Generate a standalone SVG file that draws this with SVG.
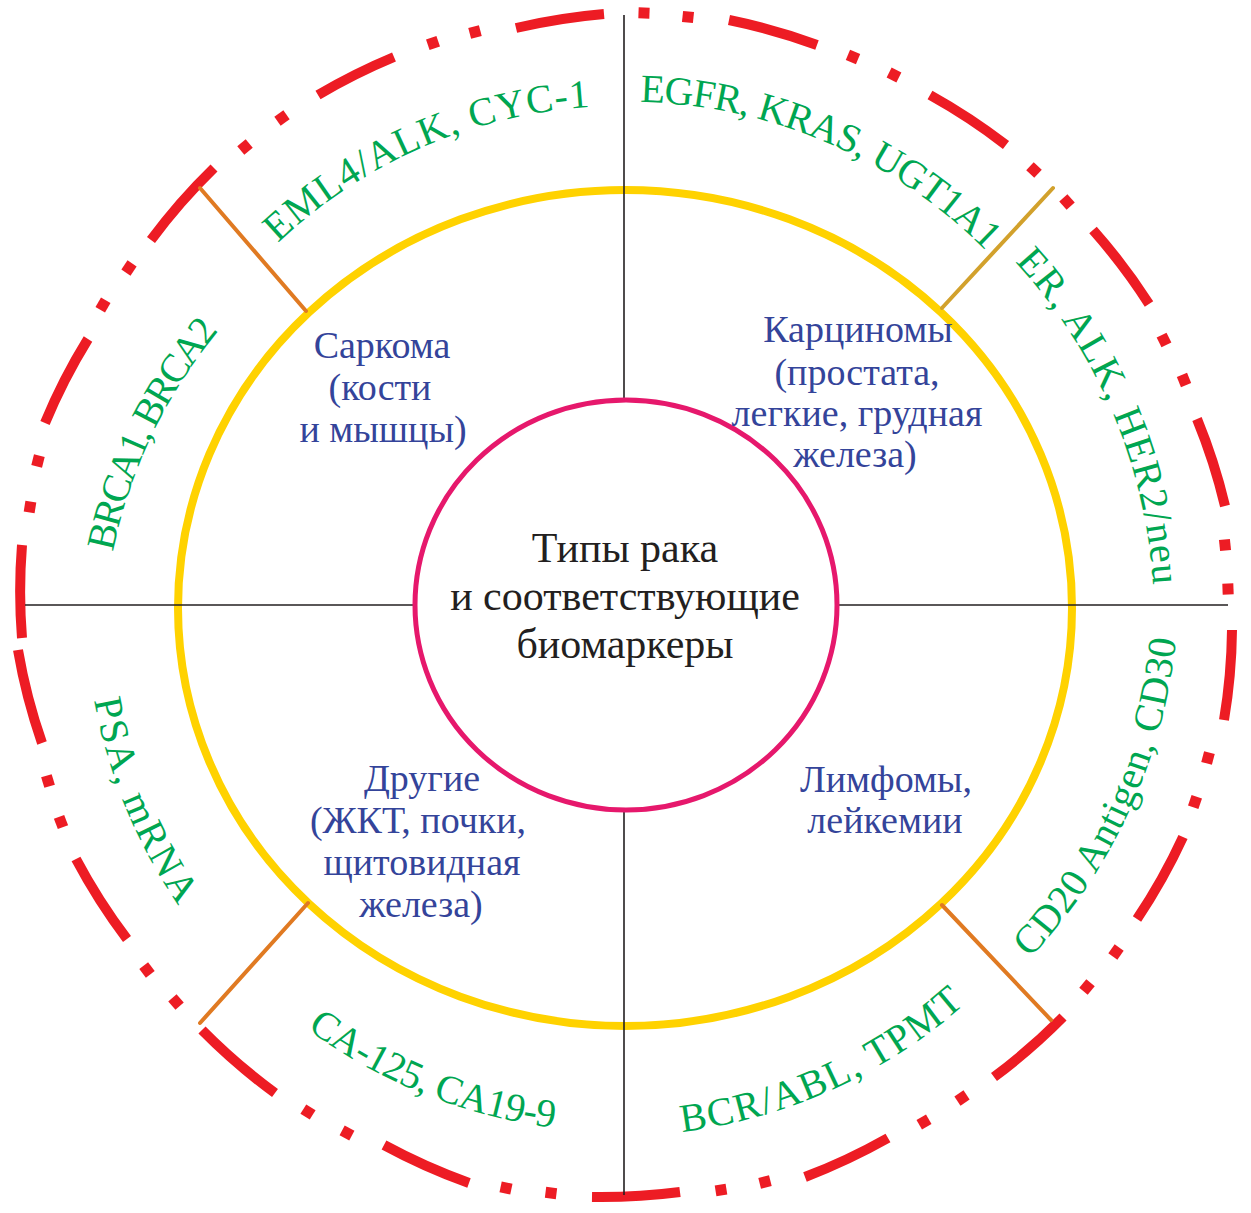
<svg xmlns="http://www.w3.org/2000/svg" width="1251" height="1213" viewBox="0 0 1251 1213">
<style>
.grn{font-family:"Liberation Serif","DejaVu Serif",serif;font-size:40px;fill:#00a651}
.blu{font-family:"Liberation Serif","DejaVu Serif",serif;font-size:38px;fill:#34449a;text-anchor:middle}
.ctr{font-family:"Liberation Serif","DejaVu Serif",serif;font-size:42px;fill:#231f20;text-anchor:middle}
.dash{stroke:#ed1c24;stroke-width:10;fill:none;stroke-linecap:butt}
.dot{fill:#ed1c24}
.conn{stroke:#e07a22;stroke-width:4;stroke-linecap:round;fill:none}
.axis{stroke:#231f20;stroke-width:1.6;fill:none}
</style>
<defs>
<path id="p1" d="M278 243 A500 500 0 0 1 590 107"/>
<path id="p2" d="M640 102 A503 503 0 0 1 987 252"/>
<path id="p3" d="M1015 262 A523 523 0 0 1 1153 586"/>
<path id="p4" d="M1030 958 A545 545 0 0 0 1176 640"/>
<path id="p5" d="M682 1132 A528 528 0 0 0 966 1003"/>
<path id="p6" d="M307 1029 A529 529 0 0 0 556 1128"/>
<path id="p7" d="M94 700 A538 538 0 0 0 178 905"/>
<path id="p8" d="M113 552 A500 500 0 0 1 221 328"/>
</defs>
<rect width="1251" height="1213" fill="#ffffff"/>
<g id="outer-ring">
<path class="dash" d="M516 28 A606 593 0 0 1 604 14"/>
<path class="dash" d="M729 20 A606 593 0 0 1 817 45"/>
<path class="dash" d="M930 95 A606 593 0 0 1 1006 145"/>
<path class="dash" d="M1093 230 A606 593 0 0 1 1149 304"/>
<path class="dash" d="M1197 419 A606 593 0 0 1 1225 506"/>
<path class="dash" d="M1232 630 A606 593 0 0 1 1224 720"/>
<path class="dash" d="M1183 837 A606 593 0 0 1 1137 919"/>
<path class="dash" d="M1063 1017 A606 593 0 0 1 994 1077"/>
<path class="dash" d="M888 1138 A606 593 0 0 1 805 1177"/>
<path class="dash" d="M680 1192 A606 593 0 0 1 592 1197"/>
<path class="dash" d="M469 1183 A606 593 0 0 1 384 1145"/>
<path class="dash" d="M275 1093 A606 593 0 0 1 202 1030"/>
<path class="dash" d="M127 939 A606 593 0 0 1 76 859"/>
<path class="dash" d="M42 743 A606 593 0 0 1 18 650"/>
<path class="dash" d="M22 638 A606 593 0 0 1 22 545"/>
<path class="dash" d="M45 423 A606 593 0 0 1 88 339"/>
<path class="dash" d="M151 240 A606 593 0 0 1 214 168"/>
<path class="dash" d="M318 95 A606 593 0 0 1 394 57"/>
<rect class="dot" x="427.5" y="37.5" width="11" height="11" transform="rotate(-109 433 43)"/>
<rect class="dot" x="469.5" y="26.5" width="11" height="11" transform="rotate(-105 475 32)"/>
<rect class="dot" x="638.5" y="7.5" width="11" height="11" transform="rotate(-88 644 13)"/>
<rect class="dot" x="682.5" y="11.5" width="11" height="11" transform="rotate(-84 688 17)"/>
<rect class="dot" x="847.5" y="51.5" width="11" height="11" transform="rotate(-67 853 57)"/>
<rect class="dot" x="888.5" y="69.5" width="11" height="11" transform="rotate(-63 894 75)"/>
<rect class="dot" x="1028.5" y="164.5" width="11" height="11" transform="rotate(-47 1034 170)"/>
<rect class="dot" x="1061.5" y="196.5" width="11" height="11" transform="rotate(-42 1067 202)"/>
<rect class="dot" x="1158.5" y="334.5" width="11" height="11" transform="rotate(-26 1164 340)"/>
<rect class="dot" x="1178.5" y="374.5" width="11" height="11" transform="rotate(-22 1184 380)"/>
<rect class="dot" x="1219.5" y="539.5" width="11" height="11" transform="rotate(-6 1225 545)"/>
<rect class="dot" x="1222.5" y="583.5" width="11" height="11" transform="rotate(-2 1228 589)"/>
<rect class="dot" x="1202.5" y="752.5" width="11" height="11" transform="rotate(15 1208 758)"/>
<rect class="dot" x="1189.5" y="796.5" width="11" height="11" transform="rotate(19 1195 802)"/>
<rect class="dot" x="1110.5" y="946.5" width="11" height="11" transform="rotate(35 1116 952)"/>
<rect class="dot" x="1081.5" y="981.5" width="11" height="11" transform="rotate(40 1087 987)"/>
<rect class="dot" x="956.5" y="1092.5" width="11" height="11" transform="rotate(56 962 1098)"/>
<rect class="dot" x="918.5" y="1116.5" width="11" height="11" transform="rotate(60 924 1122)"/>
<rect class="dot" x="759.5" y="1176.5" width="11" height="11" transform="rotate(76 765 1182)"/>
<rect class="dot" x="715.5" y="1184.5" width="11" height="11" transform="rotate(81 721 1190)"/>
<rect class="dot" x="545.5" y="1187.5" width="11" height="11" transform="rotate(97 551 1193)"/>
<rect class="dot" x="500.5" y="1182.5" width="11" height="11" transform="rotate(102 506 1188)"/>
<rect class="dot" x="341.5" y="1127.5" width="11" height="11" transform="rotate(118 347 1133)"/>
<rect class="dot" x="302.5" y="1106.5" width="11" height="11" transform="rotate(122 308 1112)"/>
<rect class="dot" x="170.5" y="996.5" width="11" height="11" transform="rotate(139 176 1002)"/>
<rect class="dot" x="141.5" y="964.5" width="11" height="11" transform="rotate(143 147 970)"/>
<rect class="dot" x="55.5" y="816.5" width="11" height="11" transform="rotate(159 61 822)"/>
<rect class="dot" x="42.5" y="775.5" width="11" height="11" transform="rotate(163 48 781)"/>
<rect class="dot" x="24.5" y="501.5" width="11" height="11" transform="rotate(-171 30 507)"/>
<rect class="dot" x="32.5" y="455.5" width="11" height="11" transform="rotate(-166 38 461)"/>
<rect class="dot" x="97.5" y="299.5" width="11" height="11" transform="rotate(-150 103 305)"/>
<rect class="dot" x="123.5" y="262.5" width="11" height="11" transform="rotate(-146 129 268)"/>
<rect class="dot" x="239.5" y="141.5" width="11" height="11" transform="rotate(-130 245 147)"/>
<rect class="dot" x="276.5" y="112.5" width="11" height="11" transform="rotate(-125 282 118)"/>
</g>
<g id="middle-ring">
<ellipse cx="625" cy="608" rx="447" ry="418" fill="none" stroke="#ffd200" stroke-width="8"/>
</g>
<g id="connectors">
<line class="axis" x1="624" y1="15" x2="624" y2="400"/>
<line class="axis" x1="624" y1="810" x2="624" y2="1195"/>
<line class="axis" x1="25" y1="605" x2="415" y2="605"/>
<line class="axis" x1="837" y1="605" x2="1228" y2="605"/>
<line class="conn" x1="200" y1="188" x2="306" y2="311"/>
<line class="conn" x1="1053" y1="188" x2="942" y2="308" style="stroke:#d2a12c"/>
<line class="conn" x1="308" y1="903" x2="200" y2="1023"/>
<line class="conn" x1="942" y1="905" x2="1051" y2="1020"/>
</g>
<g id="center">
<ellipse cx="626" cy="605" rx="211" ry="205" fill="none" stroke="#e6186c" stroke-width="5"/>
<text class="ctr" x="625" y="562">Типы рака</text>
<text class="ctr" x="625" y="610">и соответствующие</text>
<text class="ctr" x="625" y="658">биомаркеры</text>
</g>
<g id="sarcoma">
<text class="blu" x="382" y="358">Саркома</text>
<text class="blu" x="380" y="400">(кости</text>
<text class="blu" x="383" y="442">и мышцы)</text>
</g>
<g id="carcinoma">
<text class="blu" x="858" y="342">Карциномы</text>
<text class="blu" x="857" y="385">(простата,</text>
<text class="blu" x="857" y="426">легкие, грудная</text>
<text class="blu" x="855" y="467">железа)</text>
</g>
<g id="other">
<text class="blu" x="422" y="791">Другие</text>
<text class="blu" x="418" y="833">(ЖКТ, почки,</text>
<text class="blu" x="422" y="875">щитовидная</text>
<text class="blu" x="421" y="917">железа)</text>
</g>
<g id="lymphoma">
<text class="blu" x="886" y="792">Лимфомы,</text>
<text class="blu" x="885" y="833">лейкемии</text>
</g>
<g id="marker-sarcoma-1"><text class="grn"><textPath href="#p1" textLength="347" lengthAdjust="spacing">EML4/ALK, CYC-1</textPath></text></g>
<g id="marker-carcinoma-1"><text class="grn"><textPath href="#p2" textLength="386" lengthAdjust="spacing">EGFR, KRAS, UGT1A1</textPath></text></g>
<g id="marker-carcinoma-2"><text class="grn"><textPath href="#p3" textLength="358" lengthAdjust="spacing">ER, ALK, HER2/neu</textPath></text></g>
<g id="marker-lymphoma-1"><text class="grn"><textPath href="#p4" textLength="357" lengthAdjust="spacing">CD20 Antigen, CD30</textPath></text></g>
<g id="marker-lymphoma-2"><text class="grn"><textPath href="#p5" textLength="315" lengthAdjust="spacing">BCR/ABL, TPMT</textPath></text></g>
<g id="marker-other-1"><text class="grn"><textPath href="#p6" textLength="269" lengthAdjust="spacing">CA-125, CA19-9</textPath></text></g>
<g id="marker-other-2"><text class="grn"><textPath href="#p7" textLength="224" lengthAdjust="spacing">PSA, mRNA</textPath></text></g>
<g id="marker-sarcoma-2"><text class="grn"><textPath href="#p8" textLength="248" lengthAdjust="spacing">BRCA1, BRCA2</textPath></text></g>
</svg>
